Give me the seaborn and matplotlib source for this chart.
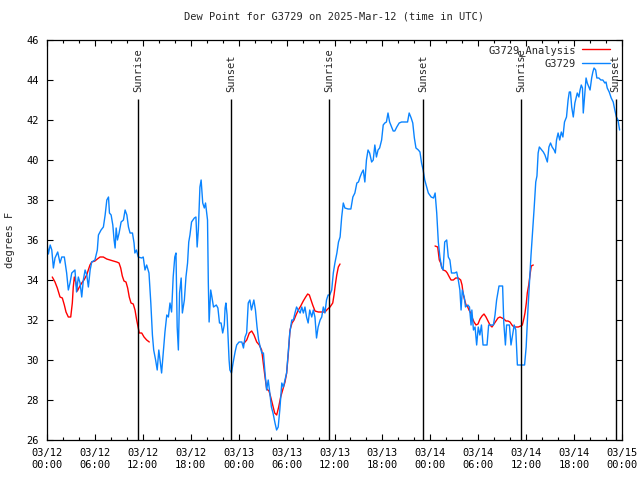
import pandas as pd
import numpy as np
import seaborn as sns
import matplotlib.pyplot as plt
import matplotlib.dates as mdates
from matplotlib.lines import Line2D

start = pd.Timestamp("2025-03-12 00:00")

# station observations, hours after start / dew point (F)
obs_hours = [0.0, 0.17, 0.4, 0.6, 0.8, 1.0, 1.34, 1.63, 1.85, 2.17, 2.46, 2.67, 2.88, 3.1, 3.5,
             3.7, 3.92, 4.14, 4.35, 4.55, 4.77, 4.98, 5.18, 5.4, 5.6, 6.0, 6.3, 6.44, 6.77,
             7.06, 7.28, 7.49, 7.7, 7.82, 8.03, 8.24, 8.4, 8.53, 8.66, 8.82, 9.03, 9.28, 9.57,
             9.78, 10.0, 10.2, 10.4, 10.7, 10.9, 11.0, 11.2, 11.43, 11.85, 12.05, 12.27, 12.48,
             12.77, 13.0, 13.2, 13.36, 13.6, 13.8, 14.0, 14.2, 14.35, 14.55, 14.77, 15.0, 15.2,
             15.4, 15.6, 15.8, 16.0, 16.15, 16.3, 16.45, 16.6, 16.8, 16.95, 17.2, 17.4, 17.6,
             17.75, 17.9, 18.1, 18.45, 18.65, 18.8, 18.95, 19.15, 19.3, 19.5, 19.7, 19.85, 20.1,
             20.2, 20.3, 20.5, 20.65, 20.85, 21.2, 21.4, 21.6, 21.8, 22.0, 22.2, 22.3, 22.4,
             22.55, 22.7, 22.8, 22.9, 23.1, 23.3, 23.55, 23.75, 24.05, 24.4, 24.6, 24.8, 25.0,
             25.2, 25.4, 25.6, 25.9, 26.1, 26.3, 26.5, 26.7, 26.9, 27.1, 27.3, 27.5, 27.7, 27.9,
             28.1, 28.3, 28.55, 28.75, 28.95, 29.15, 29.4, 29.6, 29.8, 30.0, 30.2, 30.4, 30.65,
             30.85, 31.05, 31.25, 31.45, 31.7, 31.9, 32.1, 32.3, 32.5, 32.7, 32.9, 33.15, 33.35,
             33.55, 33.75, 33.95, 34.2, 34.4, 34.6, 34.8, 35.0, 35.2, 35.4, 35.65, 35.85, 36.05,
             36.3, 36.5, 36.7, 36.9, 37.1, 37.3, 37.7, 38.05, 38.3, 38.55, 38.8, 39.0, 39.2,
             39.4, 39.6, 39.8, 40.0, 40.2, 40.4, 40.65, 40.85, 41.05, 41.25, 41.45, 41.65, 41.9,
             42.1, 42.3, 42.5, 42.7, 42.9, 43.15, 43.35, 43.55, 43.8, 44.1, 44.4, 44.8, 45.15,
             45.35, 45.6, 45.8, 46.0, 46.2, 46.5, 46.7, 46.9, 47.1, 47.3, 47.55, 47.75, 48.1,
             48.4, 48.6, 48.8, 49.0, 49.2, 49.4, 49.6, 49.8, 50.05, 50.25, 50.45, 50.65, 51.05,
             51.3, 51.5, 51.7, 51.85, 52.0, 52.25, 52.4, 52.7, 52.9, 53.1, 53.2, 53.4, 53.6,
             53.8, 54.0, 54.2, 54.4, 54.6, 55.1, 55.3, 55.9, 56.1, 56.3, 56.6, 57.05, 57.2,
             57.4, 57.55, 57.9, 58.1, 58.3, 58.5, 58.7, 58.9, 59.8, 60.0, 60.2, 60.4, 60.6,
             60.8, 61.0, 61.2, 61.35, 61.5, 61.65, 61.95, 62.15, 62.35, 62.65, 62.85, 63.05,
             63.25, 63.5, 63.65, 63.8, 64.0, 64.2, 64.4, 64.6, 64.8, 65.05, 65.25, 65.4, 65.55,
             65.7, 65.9, 66.1, 66.25, 66.4, 66.6, 66.75, 66.9, 67.05, 67.15, 67.35, 67.5, 67.65,
             67.85, 68.0, 68.2, 68.35, 68.5, 68.7, 68.85, 69.1, 69.35, 69.6, 69.85, 70.0, 70.15,
             70.4, 70.65, 70.9, 71.1, 71.3, 71.5, 71.7]
obs_dewpt = [35.85, 35.3, 35.75, 35.5, 34.6, 35.1, 35.4, 34.85, 35.15, 35.15, 34.35, 33.5, 33.85,
             34.35, 34.5, 33.4, 34.15, 33.85, 33.15, 34.0, 34.5, 34.25, 33.65, 34.5, 34.9, 35.0,
             35.5, 36.25, 36.5, 36.65, 37.25, 38.0, 38.15, 37.35, 37.25, 36.75, 36.0, 35.6,
             36.6, 36.0, 36.35, 36.9, 37.0, 37.5, 37.25, 36.65, 36.35, 36.35, 35.85, 35.35,
             35.5, 35.15, 35.1, 35.15, 34.5, 34.75, 34.35, 32.85, 31.25, 30.5, 30.0, 29.5, 30.5,
             29.85, 29.35, 30.35, 31.4, 32.25, 32.15, 32.85, 32.4, 34.15, 35.15, 35.35, 31.65,
             30.5, 33.35, 34.1, 32.35, 33.0, 34.15, 34.85, 35.9, 36.25, 36.9, 37.1, 37.15,
             35.65, 36.5, 38.65, 39.0, 37.85, 37.6, 37.85, 37.0, 33.85, 31.9, 33.5, 33.15,
             32.65, 32.75, 32.6, 31.85, 31.85, 31.35, 31.75, 32.6, 32.85, 32.25, 30.9, 30.0,
             29.5, 29.35, 29.85, 30.4, 30.75, 30.9, 30.9, 30.6, 31.15, 31.35, 32.85, 33.0, 32.5,
             33.0, 32.5, 31.65, 31.0, 30.65, 30.35, 30.35, 29.35, 28.5, 29.0, 28.35, 27.65,
             27.35, 26.85, 26.5, 26.65, 27.5, 28.85, 28.65, 29.0, 29.35, 30.35, 31.35, 32.0,
             32.0, 32.35, 32.65, 32.5, 32.35, 32.65, 32.35, 32.65, 32.15, 31.85, 32.5, 32.15,
             32.5, 32.15, 31.1, 31.65, 32.0, 32.15, 32.65, 32.35, 33.0, 33.25, 33.25, 33.5,
             34.35, 34.85, 35.35, 35.9, 36.15, 37.15, 37.85, 37.6, 37.55, 37.55, 38.15, 38.35,
             38.85, 38.9, 39.15, 39.35, 39.5, 38.9, 40.0, 40.5, 40.35, 39.9, 40.0, 40.75, 40.15,
             40.5, 40.6, 41.0, 41.75, 41.85, 41.9, 42.35, 41.9, 41.65, 41.45, 41.45, 41.65,
             41.85, 41.9, 41.9, 41.9, 42.35, 42.1, 41.85, 41.1, 40.6, 40.5, 40.4, 39.85, 39.5,
             39.0, 38.65, 38.35, 38.15, 38.1, 38.35, 37.35, 35.9, 35.15, 34.65, 34.5, 35.9,
             36.0, 35.15, 35.0, 34.35, 34.35, 34.4, 34.0, 33.5, 32.5, 33.5, 33.15, 32.65, 32.75,
             32.65, 31.75, 32.5, 31.5, 31.65, 30.75, 31.65, 31.25, 31.75, 30.75, 30.75, 31.75,
             31.75, 32.25, 33.0, 33.7, 33.7, 31.85, 30.75, 31.75, 31.75, 30.75, 31.25, 31.75,
             31.5, 29.75, 29.75, 30.65, 32.35, 33.8, 35.2, 36.4, 37.6, 38.9, 39.2, 40.35, 40.65,
             40.5, 40.4, 40.25, 39.9, 40.65, 40.85, 40.65, 40.5, 40.35, 41.0, 41.35, 41.0, 41.4,
             41.15, 41.9, 42.15, 43.0, 43.4, 43.4, 42.65, 42.15, 42.85, 43.1, 43.35, 43.15, 43.5,
             43.75, 43.6, 42.35, 43.35, 44.1, 43.85, 43.65, 43.5, 44.1, 44.4, 44.6, 44.5, 44.1,
             44.1, 44.0, 44.0, 43.85, 43.9, 43.6, 43.4, 43.1, 42.9, 42.5, 42.15, 42.0, 41.5]

# analysis, three separate runs
ana_hours_1 = [0.66, 1.0, 1.29, 1.63, 1.92, 2.17, 2.38, 2.67, 2.97, 3.17, 3.29, 3.42, 3.63, 3.8,
               4.05, 4.35, 4.63, 4.97, 5.17, 5.38, 5.6, 6.0, 6.3, 6.64, 7.05, 7.48, 7.89, 8.3,
               8.73, 9.02, 9.23, 9.43, 9.64, 9.89, 10.1, 10.3, 10.52, 10.8, 11.02, 11.23, 11.43,
               11.56, 11.86, 12.15, 12.48, 12.81]
ana_dewpt_1 = [34.15, 33.9, 33.6, 33.15, 33.1, 32.75, 32.4, 32.15, 32.15, 32.85, 33.65, 34.15,
               33.85, 33.45, 33.65, 33.85, 34.0, 34.25, 34.5, 34.75, 34.9, 34.95, 35.05, 35.15,
               35.15, 35.05, 35.0, 34.95, 34.9, 34.85, 34.6, 34.2, 33.95, 33.9, 33.6, 33.15,
               32.85, 32.8, 32.5, 32.0, 31.6, 31.35, 31.35, 31.15, 31.0, 30.9]
ana_hours_2 = [24.58, 25.01, 25.33, 25.63, 25.92, 26.26, 26.58, 26.88, 27.08, 27.3, 27.51, 27.8,
               28.01, 28.26, 28.51, 28.76, 29.01, 29.26, 29.51, 29.8, 30.01, 30.22, 30.43, 30.68,
               30.93, 31.18, 31.47, 31.77, 32.09, 32.39, 32.64, 32.85, 33.06, 33.27, 33.56, 33.97,
               34.4, 34.81, 35.15, 35.44, 35.78, 35.94, 36.1, 36.28, 36.48, 36.69]
ana_dewpt_2 = [30.8, 31.0, 31.35, 31.45, 31.25, 30.9, 30.75, 30.5, 29.85, 29.15, 28.55, 28.45,
               28.15, 27.75, 27.35, 27.25, 27.65, 28.15, 28.5, 28.9, 29.35, 30.35, 31.5, 31.85,
               32.0, 32.25, 32.5, 32.7, 32.95, 33.15, 33.3, 33.25, 33.0, 32.75, 32.45, 32.4, 32.4,
               32.4, 32.55, 32.65, 32.85, 33.25, 33.75, 34.25, 34.65, 34.8]
ana_hours_3 = [48.59, 48.92, 49.0, 49.12, 49.3, 49.46, 49.62, 49.92, 50.12, 50.38, 50.59, 50.88,
               51.18, 51.5, 51.8, 51.97, 52.13, 52.3, 52.47, 52.63, 52.84, 53.06, 53.26, 53.47,
               53.72, 53.97, 54.22, 54.47, 54.72, 54.97, 55.22, 55.47, 55.72, 55.97, 56.22, 56.47,
               56.72, 56.97, 57.22, 57.47, 57.72, 57.97, 58.22, 58.47, 58.73, 59.02, 59.32, 59.52,
               59.73, 59.85, 60.02, 60.14, 60.32, 60.48, 60.64, 60.89]
ana_dewpt_3 = [35.7, 35.65, 35.4, 35.0, 34.85, 34.6, 34.5, 34.45, 34.35, 34.15, 34.0, 34.0, 34.1,
               34.1, 34.0, 33.75, 33.25, 33.0, 32.75, 32.7, 32.5, 32.35, 32.1, 31.9, 31.75, 31.8,
               32.05, 32.2, 32.3, 32.15, 31.95, 31.75, 31.65, 31.8, 31.95, 32.1, 32.15, 32.1,
               32.05, 31.95, 31.95, 31.9, 31.75, 31.65, 31.65, 31.65, 31.7, 31.75, 32.1, 32.35,
               32.85, 33.35, 33.75, 34.25, 34.7, 34.75]

sun_hours = [11.43, 23.08, 35.35, 47.12, 59.4, 71.2]
sun_labels = ["Sunrise", "Sunset", "Sunrise", "Sunset", "Sunrise", "Sunset"]

obs = pd.DataFrame({"time": start + pd.to_timedelta(obs_hours, unit="h"), "dewpt": obs_dewpt})
ana_segs = []
for hrs, vals in [(ana_hours_1, ana_dewpt_1), (ana_hours_2, ana_dewpt_2), (ana_hours_3, ana_dewpt_3)]:
    ana_segs.append(pd.DataFrame({"time": start + pd.to_timedelta(hrs, unit="h"), "dewpt": vals}))

sns.set_style("ticks")
plt.rcParams['font.family'] = ['DejaVu Sans Mono']
plt.rcParams['font.size'] = 7.5

red = "#ff0000"
blue = "#0a84ff"

fig = plt.figure(figsize=(6.4, 4.8), dpi=100)
ax = fig.add_axes([47 / 640, 40 / 480, 575 / 640, 400 / 480])

for seg in ana_segs:
    sns.lineplot(data=seg, x="time", y="dewpt", color=red, lw=1.0, ax=ax)
sns.lineplot(data=obs, x="time", y="dewpt", color=blue, lw=1.0, ax=ax)

for h, lab in zip(sun_hours, sun_labels):
    t = start + pd.Timedelta(hours=h)
    ax.vlines(t, 26, 43.05, color="black", lw=1.0)
    ax.text(t, 43.4, lab, rotation=90, ha="center", va="bottom", fontsize=7.5)

ax.set_xlim(start, start + pd.Timedelta(hours=72))
ax.set_ylim(26, 46)
ax.set_yticks(range(26, 47, 2))
ax.xaxis.set_major_locator(mdates.HourLocator(byhour=range(0, 24, 6)))
ax.xaxis.set_minor_locator(mdates.HourLocator(byhour=range(0, 24, 2)))
ax.xaxis.set_major_formatter(mdates.DateFormatter("%m/%d\n%H:%M"))
ax.tick_params(which="both", direction="in", top=True, right=True, width=0.8, colors="black")
ax.tick_params(which="major", length=4, pad=6, labelsize=7.5)
ax.tick_params(which="minor", length=2)
for s in ax.spines.values():
    s.set_linewidth(0.9)
    s.set_color("black")

ax.set_xlabel("")
ax.set_ylabel("degrees F", fontsize=7.5, labelpad=8)
ax.set_title("Dew Point for G3729 on 2025-Mar-12 (time in UTC)", fontsize=7.5, pad=15)

handles = [Line2D([], [], color=red, lw=1.0), Line2D([], [], color=blue, lw=1.0)]
ax.legend(handles, ["G3729_Analysis", "G3729"], loc="upper right", frameon=False,
          bbox_to_anchor=(0.979, 0.9875), markerfirst=False, handlelength=2.7,
          fontsize=7.5, labelspacing=0.25, borderaxespad=0, borderpad=0,
          handletextpad=0.55)

fig.savefig("out.png", dpi=100)
